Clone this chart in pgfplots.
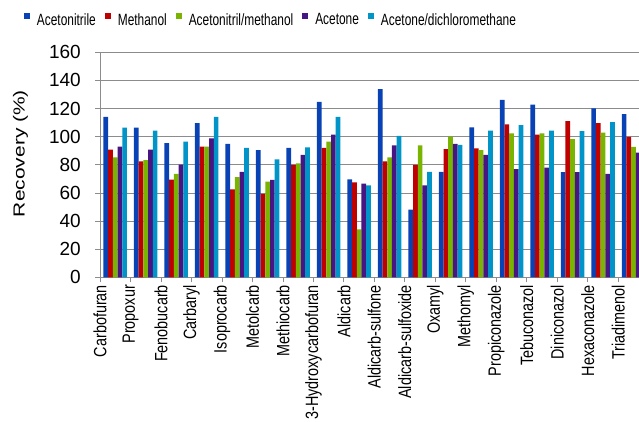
\documentclass[border=0pt]{standalone}
\usepackage{pgfplots}
\pgfplotsset{compat=1.18}
\usepackage{pgfplotstable}
\usepackage{graphicx}
\usepackage{fontspec}
\setmainfont{Liberation Sans}

\definecolor{cACN}{RGB}{8,66,180}
\definecolor{cMeOH}{RGB}{192,0,0}
\definecolor{cMix}{RGB}{120,180,0}
\definecolor{cAce}{RGB}{72,22,130}
\definecolor{cDCM}{RGB}{0,148,200}
\definecolor{cGrid}{RGB}{140,140,140}

\newcommand{\xl}[1]{\scalebox{0.81}[1]{#1}}
\newcommand{\yl}[1]{#1\hspace*{14pt}}
\newcommand{\lgtext}[1]{\scalebox{0.73}[1]{#1}}

% Recovery (%) per pesticide and extraction solvent
\pgfplotstableread{
x  acn    meoh   mix    ace    dcm
0  114.0  90.8   85.3   92.9   106.4
1  106.4  82.5   83.4   90.8   104.3
2  95.5   69.4   73.5   80.1   96.5
3  109.7  92.9   92.9   98.8   114.0
4  94.8   62.6   71.3   74.9   92.0
5  90.5   59.3   68.0   69.2   83.9
6  92.0   79.9   81.1   87.0   92.4
7  124.7  92.0   96.5   101.4  114.0
8  69.7   67.5   34.1   66.6   65.4
9  133.9  82.5   85.3   93.9   100.5
10 48.1   79.9   93.9   65.4   74.9
11 74.9   91.2   100.0  94.8   94.1
12 106.7  91.7   90.5   87.0   104.3
13 126.1  108.8  102.4  77.0   108.3
14 122.8  101.4  102.4  78.0   104.3
15 74.8   111.1  98.3   74.8   103.9
16 120.2  109.7  102.8  73.5   110.3
17 116.0  99.9   92.8   88.7   95.0
}\recovery

\begin{document}
\begin{tikzpicture}
\begin{axis}[
  name=ax,
  scale only axis,
  width=539pt, height=225pt,
  xmin=-0.5, xmax=17.18,
  ymin=0, ymax=160,
  axis x line*=bottom, axis y line*=left,
  axis line style={-, draw=cGrid, line width=0.8pt},
  tick align=outside,
  major tick length=5pt,
  every tick/.style={draw=cGrid, line width=0.8pt},
  ymajorgrids,
  grid style={draw=cGrid, line width=0.8pt},
  ybar=0pt, bar width=4.7pt,
  ytick={0,20,...,160},
  yticklabels={\yl{0},\yl{20},\yl{40},\yl{60},\yl{80},\yl{100},\yl{120},\yl{140},\yl{160}},
  yticklabel style={font=\fontsize{19}{22}\selectfont, anchor=east, inner sep=0pt},
  xtick={-0.5,0.5,...,16.5},
  xticklabels={\xl{Carbofuran},\xl{Propoxur},\xl{Fenobucarb},\xl{Carbaryl},\xl{Isoprocarb},
    \xl{Metolcarb},\xl{Methiocarb},\xl{3-Hydroxycarbofuran},\xl{Aldicarb},\xl{Aldicarb-sulfone},
    \xl{Aldicarb-sulfoxide},\xl{Oxamyl},\xl{Methomyl},\xl{Propiconazole},\xl{Tebuconazol},
    \xl{Diniconazol},\xl{Hexaconazole},\xl{Triadimenol}},
  xticklabel style={font=\fontsize{17.8}{20}\selectfont, rotate=90, anchor=east, inner sep=0pt, xshift=-2.5pt},
  ylabel={\scalebox{1.31}[1]{Recovery (\%)}},
  ylabel style={font=\fontsize{16}{19}\selectfont, at={(axis description cs:-0.1475,0.55)}, anchor=center, rotate=0},
  legend columns=5,
  legend image code/.code={\fill[#1] (0pt,1pt) rectangle (6pt,7pt);},
  legend style={draw=none, fill=none, inner sep=0pt, outer sep=0pt,
    at={(axis description cs:-0.141,1.1436)}, anchor=west,
    font=\fontsize{16.3}{19}\selectfont,
    /tikz/every odd column/.append style={column sep=5pt},
    /tikz/every even column/.append style={column sep=7pt}},
]
\addplot[fill=cACN, draw=none] table[x=x, y=acn] {\recovery};
\addplot[fill=cMeOH, draw=none] table[x=x, y=meoh] {\recovery};
\addplot[fill=cMix, draw=none] table[x=x, y=mix] {\recovery};
\addplot[fill=cAce, draw=none] table[x=x, y=ace] {\recovery};
\addplot[fill=cDCM, draw=none] table[x=x, y=dcm] {\recovery};
\legend{\lgtext{Acetonitrile},\lgtext{Methanol}\hspace{4pt},\lgtext{Acetonitril/methanol}\hspace{14pt},\lgtext{Acetone}\hspace{1pt},\lgtext{Acetone/dichloromethane}}
\end{axis}
\pgfresetboundingbox
\path[use as bounding box] ([shift={(-100pt,-143.7pt)}]ax.south west) rectangle ([shift={(0pt,52.3pt)}]ax.north east);
\end{tikzpicture}
\end{document}
